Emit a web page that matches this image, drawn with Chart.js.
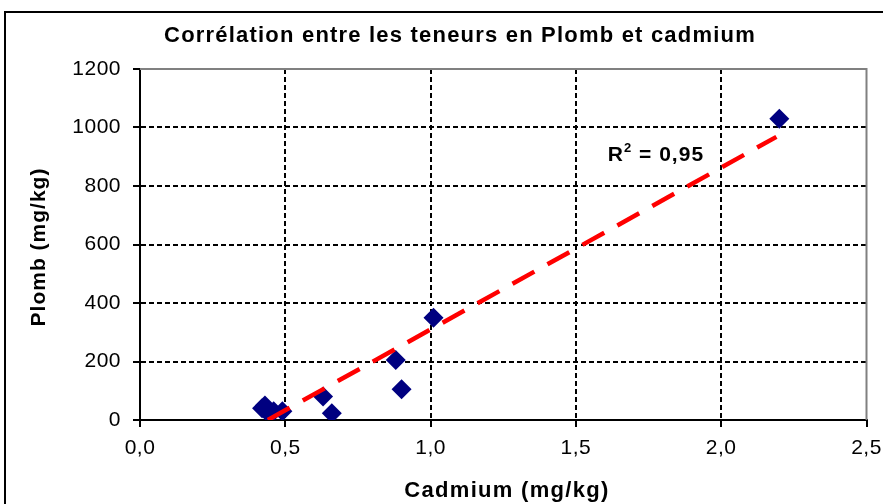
<!DOCTYPE html>
<html>
<head>
<meta charset="utf-8">
<script src="https://cdn.jsdelivr.net/npm/chart.js@4/dist/chart.umd.min.js"></script>
<style>
  html, body { margin: 0; padding: 0; background: #fff; }
  canvas { display: block; }
</style>
</head>
<body>
<canvas id="chart" width="883" height="504"></canvas>
<script>
// Données
const cadmium = [0.42, 0.43, 0.44, 0.46, 0.49, 0.63, 0.66, 0.88, 0.90, 1.01, 2.20];
const plomb = [40, 50, 25, 30, 30, 80, 23, 205, 105, 350, 1030];

// Droite de tendance (extrémités)
const trendX = [0.44, 2.19];
const trendY = [0, 968];

const xTicks = [0, 0.5, 1.0, 1.5, 2.0, 2.5];
const yTicks = [0, 200, 400, 600, 800, 1000, 1200];

const titre = 'Corrélation entre les teneurs en Plomb et cadmium';
const titreX = 'Cadmium (mg/kg)';
const titreY = 'Plomb (mg/kg)';
const r2Label = ['R', '2', ' = 0,95'];

const FONT = '"Liberation Sans", Arial, sans-serif';

// Espacement des lettres, un peu étiré comme dans Excel
function setSpacing(chart, px) {
    chart.ctx.letterSpacing = px + 'px';
}

const decorPlugin = {
    id: 'decor',
    beforeLayout(chart) { setSpacing(chart, 0.5); },
    beforeDraw(chart) {
        const ctx = chart.ctx;
        ctx.save();
        ctx.fillStyle = '#fff';
        ctx.fillRect(0, 0, chart.width, chart.height);
        // cadre extérieur
        ctx.strokeStyle = '#000';
        ctx.lineWidth = 2;
        ctx.beginPath();
        ctx.moveTo(5, chart.height);
        ctx.lineTo(5, 12);
        ctx.lineTo(chart.width, 12);
        ctx.stroke();
        ctx.restore();
        setSpacing(chart, 0.5);
    },
    beforeDatasetsDraw(chart) {
        const ctx = chart.ctx;
        const a = chart.chartArea;
        ctx.save();
        ctx.strokeStyle = '#808080';
        ctx.lineWidth = 2;
        ctx.beginPath();
        ctx.moveTo(a.left, a.top);
        ctx.lineTo(a.right, a.top);
        ctx.lineTo(a.right, a.bottom);
        ctx.stroke();
        ctx.restore();
    },
    afterDraw(chart) {
        const ctx = chart.ctx;
        const xs = chart.scales.x;
        const ys = chart.scales.y;
        ctx.save();
        ctx.fillStyle = '#000';

        // titre
        ctx.font = 'bold 22px ' + FONT;
        ctx.letterSpacing = '1.2px';
        ctx.textAlign = 'center';
        ctx.textBaseline = 'alphabetic';
        ctx.fillText(titre, 460, 42);

        // titre axe X
        ctx.letterSpacing = '1.3px';
        ctx.fillText(titreX, 507, 497);

        // titre axe Y
        ctx.save();
        ctx.translate(45, 247);
        ctx.rotate(-Math.PI / 2);
        ctx.font = 'bold 21px ' + FONT;
        ctx.letterSpacing = '1px';
        ctx.fillText(titreY, 0, 0);
        ctx.restore();

        // R²
        ctx.font = 'bold 21px ' + FONT;
        ctx.letterSpacing = '1px';
        ctx.textAlign = 'left';
        let px = xs.getPixelForValue(1.61);
        const py = ys.getPixelForValue(885);
        ctx.fillText(r2Label[0], px, py);
        px += ctx.measureText(r2Label[0]).width;
        ctx.font = 'bold 13px ' + FONT;
        ctx.fillText(r2Label[1], px, py - 9);
        px += ctx.measureText(r2Label[1]).width;
        ctx.font = 'bold 21px ' + FONT;
        ctx.fillText(r2Label[2], px, py);
        ctx.restore();
    }
};

function gridColor(first, last) {
    return (c) => {
        if (!c.tick) return 'rgba(0,0,0,0)';
        const v = c.tick.value;
        return (Math.abs(v - first) < 1e-9 || Math.abs(v - last) < 1e-9) ? 'rgba(0,0,0,0)' : '#000';
    };
}

const points = cadmium.map((x, i) => ({ x: x, y: plomb[i] }));
const trend = trendX.map((x, i) => ({ x: x, y: trendY[i] }));

new Chart(document.getElementById('chart'), {
    type: 'scatter',
    data: {
        datasets: [{
            label: 'Tendance',
            type: 'line',
            data: trend,
            borderColor: '#ff0000',
            borderWidth: 4.5,
            borderDash: [25, 15],
            pointRadius: 0,
            fill: false,
            order: 0
        }, {
            label: 'Plomb',
            data: points,
            pointStyle: 'rectRot',
            pointRadius: 10,
            pointHoverRadius: 10,
            backgroundColor: '#000080',
            borderColor: '#000080',
            borderWidth: 0,
            order: 1
        }]
    },
    options: {
        responsive: false,
        animation: false,
        devicePixelRatio: 1,
        layout: { padding: { top: 69, right: 16.5, left: 0, bottom: 0 } },
        plugins: {
            legend: { display: false },
            title: { display: false },
            tooltip: { enabled: false }
        },
        scales: {
            x: {
                type: 'linear',
                min: xTicks[0],
                max: xTicks[xTicks.length - 1],
                afterBuildTicks: (s) => { s.ticks = xTicks.map(v => ({ value: v })); },
                afterFit: (s) => { s.height = 84; s.paddingLeft = 0; s.paddingRight = 0; },
                ticks: {
                    color: '#000',
                    font: { family: FONT, size: 21 },
                    padding: 9,
                    maxRotation: 0,
                    callback: (v) => Number(v).toFixed(1).replace('.', ',')
                },
                grid: {
                    color: gridColor(xTicks[0], xTicks[xTicks.length - 1]),
                    lineWidth: 2,
                    tickColor: '#000',
                    tickLength: 7,
                    tickWidth: 2
                },
                border: { display: true, color: '#000', width: 2, dash: [5, 3] }
            },
            y: {
                type: 'linear',
                min: yTicks[0],
                max: yTicks[yTicks.length - 1],
                afterBuildTicks: (s) => { s.ticks = yTicks.map(v => ({ value: v })); },
                afterFit: (s) => { s.width = 140; s.paddingTop = 0; s.paddingBottom = 0; },
                ticks: {
                    color: '#000',
                    font: { family: FONT, size: 21 },
                    padding: 12,
                    callback: (v) => String(v)
                },
                grid: {
                    color: gridColor(yTicks[0], yTicks[yTicks.length - 1]),
                    lineWidth: 2,
                    tickColor: '#000',
                    tickLength: 7,
                    tickWidth: 2
                },
                border: { display: true, color: '#000', width: 2, dash: [5, 3] }
            }
        }
    },
    plugins: [decorPlugin]
});
</script>
</body>
</html>
